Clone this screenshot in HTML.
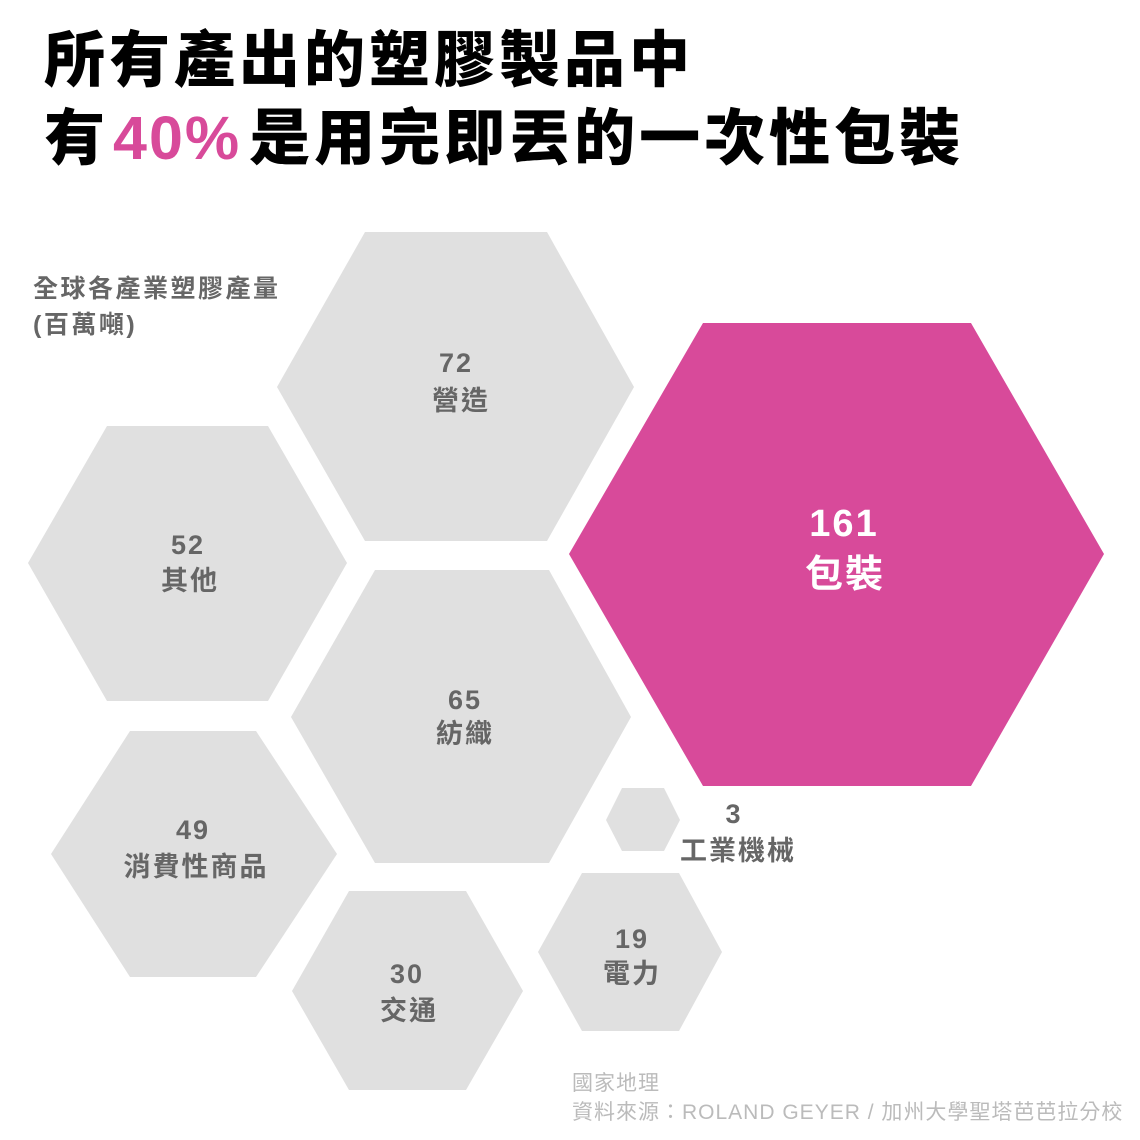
<!DOCTYPE html>
<html><head><meta charset="utf-8"><style>
html,body{margin:0;padding:0;background:#fff;}
body{width:1140px;height:1140px;overflow:hidden;position:relative;font-family:"Liberation Sans","Noto Sans CJK TC",sans-serif;}
.t{position:absolute;left:44px;font-weight:900;font-size:61px;color:#000;line-height:1;white-space:nowrap;letter-spacing:4px;}
</style></head><body>
<div class="t" style="top:30px">所有產出的塑膠製品中</div>
<div class="t" style="top:108px">有<span style="color:#d84a9a;margin:0 8px 0 4px;letter-spacing:2px">40%</span>是用完即丟的一次性包裝</div>
<svg width="1140" height="1140" style="position:absolute;left:0;top:0" font-family="Liberation Sans, Noto Sans CJK TC, sans-serif" font-weight="bold">
<g fill="#e0e0e0">
<polygon points="277,387 365,232 547,232 634,387 547,541 365,541"/>
<polygon points="28,563 107,426 268,426 347,563 268,701 107,701"/>
<polygon points="291,717 375,570 549,570 631,717 549,863 375,863"/>
<polygon points="51,854 130,731 256,731 337,854 256,977 130,977"/>
<polygon points="292,991 349,891 466,891 523,991 466,1090 349,1090"/>
<polygon points="538,952 582,873 679,873 722,952 679,1031 582,1031"/>
<polygon points="606,820 622,788 664,788 680,820 664,851 622,851"/>
</g>
<polygon fill="#d84a9a" points="569,554 703,323 971,323 1104,554 971,786 703,786"/>
<g fill="#666" font-size="27" text-anchor="middle" letter-spacing="2">
<text x="456" y="372">72</text><text x="461" y="410">營造</text>
<text x="188" y="554">52</text><text x="190" y="590">其他</text>
<text x="465" y="709">65</text><text x="465" y="743">紡織</text>
<text x="193" y="839">49</text><text x="196" y="876">消費性商品</text>
<text x="407" y="983">30</text><text x="409" y="1020">交通</text>
<text x="632" y="948">19</text><text x="632" y="983">電力</text>
<text x="734" y="823">3</text><text x="738" y="860">工業機械</text>
</g>
<g fill="#fff" font-size="38" text-anchor="middle" letter-spacing="2">
<text x="844" y="536">161</text><text x="845" y="587">包裝</text>
</g>
<g fill="#666" font-size="25" letter-spacing="2.5">
<text x="33" y="297">全球各產業塑膠產量</text>
<text x="33" y="333">(百萬噸)</text>
</g>
<g fill="#bbb" font-size="21" font-weight="normal" letter-spacing="1">
<text x="572" y="1090">國家地理</text>
<text x="572" y="1119">資料來源：ROLAND GEYER / 加州大學聖塔芭芭拉分校</text>
</g>
</svg>
</body></html>
